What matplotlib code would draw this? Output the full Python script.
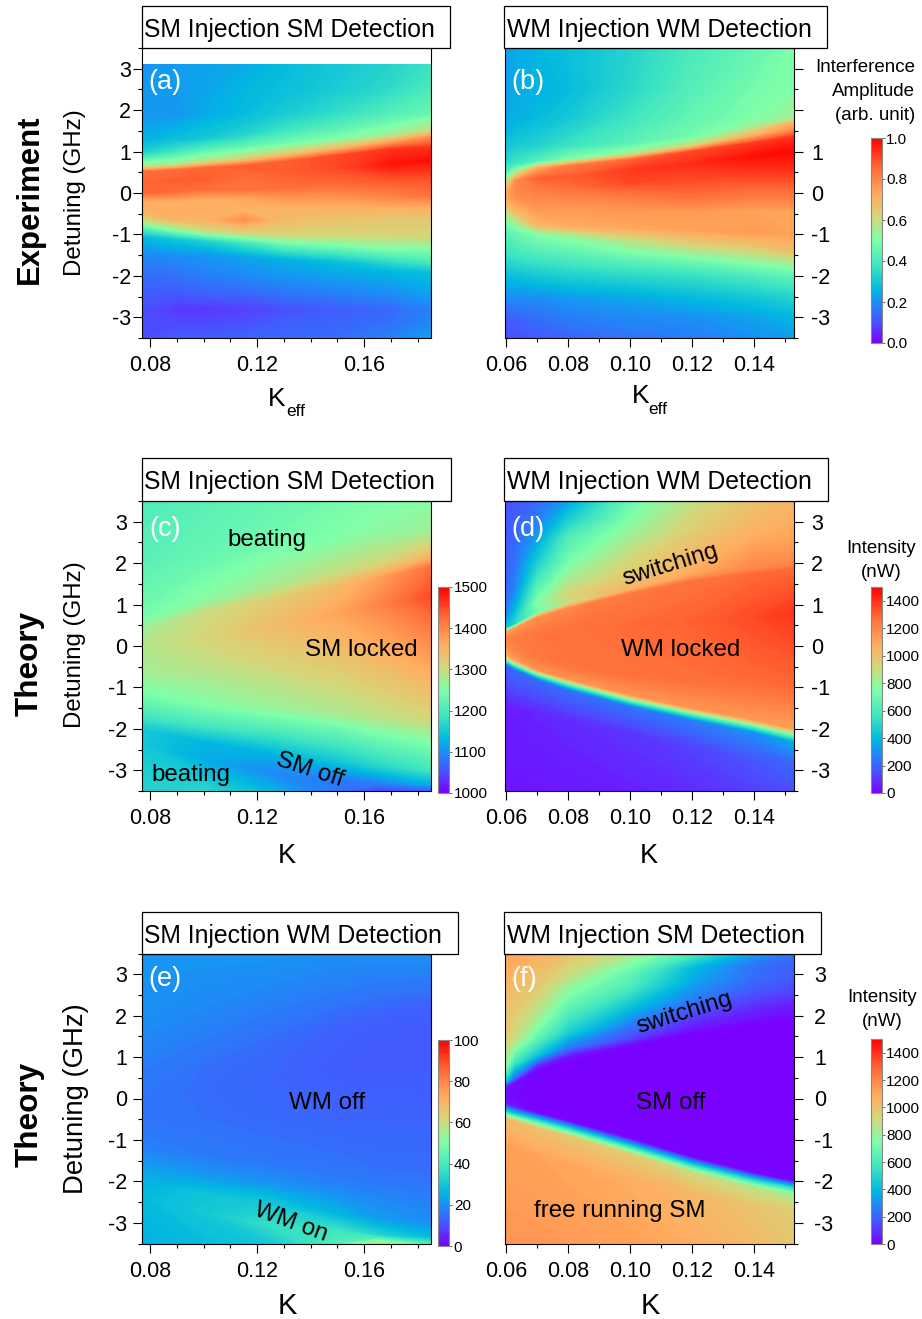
import numpy as np
import matplotlib
matplotlib.use("Agg")
import matplotlib.pyplot as plt
from matplotlib.cm import ScalarMappable
from matplotlib.colors import LinearSegmentedColormap, Normalize
from matplotlib.patches import Rectangle
from matplotlib.ticker import MultipleLocator, FormatStrFormatter

plt.rcParams['font.family'] = ['Liberation Sans', 'DejaVu Sans']

W, H = 922, 1319

# rows of each map follow the features in the picture: y per column, value per column
# panel (a), experiment, SM/SM
a_k = [0.0768, 0.09, 0.10, 0.115, 0.13, 0.15, 0.17, 0.185]
a_y = [
    [3.1] * 8,
    [2.5] * 8,
    [1.9] * 8,
    [1.3, 1.3, 1.3, 1.4, 1.5, 1.6, 1.7, 1.8],
    [0.95, 1.0, 1.05, 1.1, 1.2, 1.3, 1.4, 1.5],
    [0.65, 0.7, 0.75, 0.85, 0.95, 1.1, 1.25, 1.35],
    [0.5, 0.55, 0.6, 0.65, 0.75, 0.9, 1.05, 1.1],
    [0.25, 0.3, 0.35, 0.4, 0.5, 0.6, 0.7, 0.8],
    [0.0, 0.05, 0.1, 0.1, 0.15, 0.2, 0.25, 0.3],
    [-0.2, -0.2, -0.15, -0.1, -0.1, -0.1, -0.1, -0.05],
    [-0.45, -0.45, -0.45, -0.4, -0.4, -0.4, -0.4, -0.4],
    [-0.65] * 8,
    [-0.85, -0.9, -0.9, -0.95, -1.0, -1.0, -1.0, -1.05],
    [-1.05, -1.1, -1.15, -1.2, -1.25, -1.3, -1.35, -1.35],
    [-1.5, -1.5, -1.5, -1.55, -1.6, -1.65, -1.7, -1.7],
    [-1.9] * 8,
    [-2.4] * 8,
    [-2.8] * 8,
    [-3.1] * 8,
    [-3.5] * 8,
]
a_v = [
    [.20, .22, .23, .24, .27, .30, .33, .37],
    [.22, .22, .23, .26, .28, .31, .35, .40],
    [.21, .21, .24, .27, .31, .36, .42, .46],
    [.25, .28, .30, .33, .38, .42, .47, .50],
    [.33, .38, .42, .45, .47, .50, .55, .60],
    [.55, .55, .58, .60, .63, .66, .72, .78],
    [.85, .85, .86, .87, .87, .90, .93, .93],
    [.86, .87, .87, .85, .87, .90, .97, .98],
    [.86, .85, .85, .85, .85, .85, .87, .88],
    [.72, .72, .72, .74, .77, .77, .80, .84],
    [.70, .72, .71, .70, .70, .70, .70, .70],
    [.60, .70, .70, .78, .68, .66, .65, .65],
    [.42, .50, .60, .62, .62, .62, .62, .62],
    [.27, .30, .32, .38, .45, .47, .50, .50],
    [.19, .20, .21, .23, .25, .28, .33, .38],
    [.15, .16, .18, .20, .22, .24, .26, .28],
    [.12, .12, .13, .14, .16, .18, .20, .23],
    [.10, .07, .07, .08, .10, .12, .14, .18],
    [.10, .09, .09, .10, .12, .13, .15, .19],
    [.10, .12, .12, .13, .14, .15, .18, .22],
]

# panel (b), experiment, WM/WM
b_k = [0.0594, 0.063, 0.07, 0.08, 0.10, 0.12, 0.14, 0.153]
b_y = [
    [3.5] * 8,
    [2.5] * 8,
    [1.8] * 8,
    [1.2, 1.2, 1.1, 1.15, 1.2, 1.35, 1.6, 1.7],
    [0.75, 0.7, 0.75, 0.8, 0.95, 1.15, 1.4, 1.5],
    [0.45, 0.5, 0.6, 0.65, 0.8, 1.0, 1.2, 1.35],
    [0.25, 0.3, 0.35, 0.4, 0.55, 0.7, 0.9, 1.0],
    [0.05, 0.1, 0.1, 0.15, 0.25, 0.35, 0.5, 0.6],
    [-0.1] * 8,
    [-0.4, -0.4, -0.4, -0.4, -0.45, -0.45, -0.45, -0.45],
    [-0.65, -0.7, -0.75, -0.8, -0.85, -0.9, -0.95, -1.0],
    [-0.9, -0.95, -1.0, -1.05, -1.15, -1.25, -1.3, -1.4],
    [-1.5, -1.5, -1.5, -1.5, -1.6, -1.65, -1.7, -1.75],
    [-2.0] * 8,
    [-2.5] * 8,
    [-3.0] * 8,
    [-3.5] * 8,
]
b_v = [
    [.22, .24, .26, .28, .33, .40, .45, .50],
    [.22, .24, .25, .27, .34, .42, .48, .50],
    [.23, .25, .27, .30, .38, .45, .50, .55],
    [.28, .30, .33, .37, .43, .48, .55, .70],
    [.33, .38, .43, .50, .55, .60, .70, .80],
    [.42, .55, .72, .82, .86, .90, .92, .93],
    [.55, .78, .87, .87, .92, .94, .98, .99],
    [.70, .80, .82, .85, .90, .90, .92, .94],
    [.72, .78, .80, .80, .82, .84, .82, .82],
    [.60, .70, .76, .76, .76, .76, .74, .74],
    [.50, .56, .70, .72, .73, .74, .76, .74],
    [.42, .46, .50, .52, .58, .62, .65, .68],
    [.36, .38, .40, .42, .44, .46, .50, .52],
    [.27, .28, .30, .32, .34, .36, .40, .44],
    [.20, .20, .20, .22, .24, .27, .30, .33],
    [.12, .13, .15, .17, .19, .20, .23, .26],
    [.10, .10, .12, .13, .16, .17, .20, .22],
]

# panels (c) and (e), theory, SM injection
c_k = [0.0768, 0.10, 0.125, 0.15, 0.165, 0.185]
c_y = [
    [3.5] * 6,
    [2.0, 2.2, 2.4, 2.6, 2.7, 2.8],
    [0.7, 1.05, 1.4, 1.75, 1.95, 2.2],
    [0.4, 0.8, 1.1, 1.45, 1.65, 1.9],
    [0.0, 0.2, 0.5, 0.8, 1.0, 1.2],
    [-0.6, -0.5, -0.4, -0.3, -0.2, 0.0],
    [-1.2, -1.4, -1.5, -1.6, -1.7, -1.8],
    [-1.7, -1.9, -2.0, -2.1, -2.2, -2.3],
    [-2.0, -2.3, -2.6, -2.8, -2.9, -3.0],
    [-2.4, -2.75, -3.05, -3.2, -3.3, -3.35],
    [-3.5] * 6,
]
c_v = [
    [1205, 1215, 1225, 1240, 1250, 1255],
    [1215, 1225, 1240, 1250, 1260, 1270],
    [1240, 1260, 1280, 1300, 1310, 1340],
    [1270, 1300, 1320, 1340, 1370, 1420],
    [1285, 1310, 1340, 1370, 1400, 1450],
    [1275, 1290, 1310, 1330, 1350, 1390],
    [1240, 1250, 1265, 1280, 1290, 1305],
    [1190, 1195, 1205, 1220, 1235, 1250],
    [1150, 1130, 1125, 1145, 1165, 1190],
    [1150, 1120, 1095, 1085, 1090, 1120],
    [1165, 1170, 1130, 1075, 1040, 1055],
]
e_v = [
    [21, 21, 21, 20, 20, 20],
    [20, 19, 18, 17, 16.5, 16.5],
    [17, 16, 14.5, 13, 12.5, 12.5],
    [16.5, 15, 14, 12.5, 12, 12],
    [16, 14.5, 13.5, 12, 11.5, 11.5],
    [16, 15, 14, 13, 13, 12.5],
    [18, 17, 16, 15.5, 15, 15],
    [23, 22, 20, 18, 17.5, 17],
    [25, 29, 31, 26, 22, 20],
    [27, 30, 36, 38, 33, 27],
    [25, 27, 30, 42, 58, 40],
]

# panel (d), theory, WM/WM
d_k = [0.0594, 0.0625, 0.07, 0.08, 0.10, 0.12, 0.14, 0.153]
d_y = [
    [3.5] * 8,
    [3.0, 3.0, 3.0, 3.0, 3.1, 3.15, 3.2, 3.2],
    [2.6, 2.6, 2.6, 2.6, 2.7, 2.8, 2.9, 2.9],
    [2.0, 2.0, 2.0, 2.0, 2.2, 2.4, 2.6, 2.6],
    [1.4, 1.4, 1.5, 1.6, 1.7, 1.9, 2.2, 2.3],
    [0.75, 0.85, 1.05, 1.25, 1.45, 1.72, 1.97, 2.07],
    [0.42, 0.5, 0.8, 1.03, 1.35, 1.65, 1.85, 1.95],
    [0.33, 0.42, 0.68, 0.9, 1.25, 1.55, 1.75, 1.85],
    [0.15, 0.2, 0.3, 0.4, 0.5, 0.6, 0.7, 0.8],
    [-0.1, -0.15, -0.3, -0.5, -0.7, -0.8, -0.9, -1.0],
    [-0.2, -0.33, -0.58, -0.8, -1.18, -1.5, -1.78, -2.0],
    [-0.3, -0.43, -0.67, -0.9, -1.3, -1.62, -1.92, -2.15],
    [-0.42, -0.55, -0.8, -1.05, -1.45, -1.78, -2.08, -2.3],
    [-1.5, -1.5, -1.6, -1.8, -2.1, -2.4, -2.7, -2.8],
    [-3.5] * 8,
]
d_v = [
    [170, 170, 210, 340, 690, 880, 1000, 1050],
    [170, 185, 260, 480, 740, 920, 1025, 1065],
    [175, 200, 340, 620, 810, 950, 1050, 1090],
    [185, 220, 470, 730, 900, 1010, 1085, 1110],
    [200, 260, 610, 830, 970, 1060, 1150, 1150],
    [270, 380, 760, 930, 1030, 1100, 1180, 1190],
    [420, 500, 700, 880, 1080, 1160, 1200, 1210],
    [1050, 1130, 1170, 1200, 1240, 1260, 1280, 1280],
    [1180, 1230, 1250, 1260, 1280, 1300, 1350, 1390],
    [1120, 1200, 1240, 1250, 1260, 1270, 1275, 1280],
    [1050, 1100, 1150, 1150, 1150, 1150, 1140, 1120],
    [700, 700, 700, 700, 700, 700, 700, 700],
    [200, 220, 220, 230, 240, 260, 300, 380],
    [50, 60, 70, 80, 100, 130, 170, 210],
    [40, 40, 40, 45, 60, 80, 120, 150],
]

# panel (f), theory, WM injection SM detection
f_k = d_k
f_y = [
    [3.5] * 8,
    [3.0, 3.0, 3.0, 3.0, 3.1, 3.15, 3.2, 3.2],
    [2.6, 2.6, 2.6, 2.6, 2.7, 2.8, 2.9, 2.9],
    [2.0, 2.0, 2.0, 2.0, 2.2, 2.4, 2.6, 2.6],
    [1.4, 1.4, 1.5, 1.6, 1.75, 1.95, 2.15, 2.25],
    [0.75, 0.85, 1.05, 1.25, 1.45, 1.72, 1.92, 2.02],
    [0.42, 0.5, 0.8, 1.03, 1.3, 1.58, 1.78, 1.88],
    [0.28, 0.38, 0.68, 0.9, 1.2, 1.5, 1.7, 1.8],
    [0.0, 0.0, -0.1, -0.2, -0.3, -0.4, -0.5, -0.5],
    [-0.12, -0.2, -0.35, -0.55, -0.97, -1.42, -1.8, -2.0],
    [-0.3, -0.38, -0.52, -0.72, -1.15, -1.6, -1.97, -2.15],
    [-0.5, -0.55, -0.72, -0.92, -1.35, -1.78, -2.15, -2.32],
    [-1.2, -1.2, -1.4, -1.6, -2.0, -2.3, -2.6, -2.7],
    [-3.5] * 8,
]
f_v = [
    [1120, 1110, 1070, 1000, 850, 600, 330, 230],
    [1080, 1060, 1010, 900, 690, 400, 230, 190],
    [1040, 1010, 950, 770, 600, 350, 215, 175],
    [1000, 960, 840, 600, 420, 260, 170, 130],
    [950, 880, 680, 470, 240, 110, 70, 50],
    [780, 560, 430, 260, 130, 50, 30, 25],
    [480, 230, 80, 40, 20, 5, 5, 5],
    [60, 20, 10, 5, 5, 0, 0, 0],
    [20, 15, 5, 0, 0, 0, 0, 0],
    [60, 40, 10, 10, 10, 10, 10, 10],
    [480, 480, 480, 480, 480, 480, 480, 480],
    [1020, 1020, 1000, 980, 960, 900, 860, 820],
    [1120, 1120, 1110, 1100, 1080, 1040, 990, 960],
    [1150, 1150, 1150, 1140, 1120, 1080, 1030, 980],
]

cmap = LinearSegmentedColormap.from_list("origin_rainbow", [
    (0.00, "#7a00ff"), (0.10, "#4a50ff"), (0.20, "#1a90f5"), (0.26, "#00b8e0"),
    (0.38, "#40e6c0"), (0.50, "#80ffa8"), (0.62, "#d8d478"), (0.72, "#ffae60"),
    (0.85, "#ff6e38"), (1.00, "#ff0000")])

fig = plt.figure(figsize=(W / 100, H / 100), dpi=100)


def fx(x):
    return x / W


def fy(y):
    return 1 - y / H


def label(x, y, s, **kw):
    kw.setdefault('ha', 'center')
    kw.setdefault('va', 'center')
    if kw.get('rotation') == 90:
        x += 2
    else:
        y += 2
    fig.text(fx(x), fy(y), s, **kw)


def panel(box, k, y, v, vmin, vmax, xlim, x_major, x_fmt, side, pad, hide=()):
    l, t, r, b = box
    ax = fig.add_axes([fx(l), fy(b), (r - l) / W, (b - t) / H])
    X = np.tile(k, (len(y), 1))
    ax.contourf(X, np.array(y), np.array(v), levels=np.linspace(vmin, vmax, 201),
                cmap=cmap, vmin=vmin, vmax=vmax)
    ax.set_xlim(xlim)
    ax.set_ylim(-3.5, 3.5)
    ax.xaxis.set_major_locator(MultipleLocator(x_major))
    ax.xaxis.set_minor_locator(MultipleLocator(0.01))
    ax.xaxis.set_major_formatter(FormatStrFormatter(x_fmt))
    ax.yaxis.set_major_locator(MultipleLocator(1))
    ax.yaxis.set_minor_locator(MultipleLocator(0.5))
    ax.yaxis.set_major_formatter(lambda val, pos: '' if int(round(val)) in hide else f'{int(round(val))}')
    ax.tick_params(which='major', length=6.5, width=0.8, labelsize=15.5, pad=6)
    ax.tick_params(which='minor', length=3, width=0.8)
    ax.tick_params(axis='y', which='both', left=side == 'left', labelleft=side == 'left',
                   right=side == 'right', labelright=side == 'right')
    ax.tick_params(axis='y', which='major', pad=pad)
    for sp in ax.spines.values():
        sp.set_linewidth(0.8)
    return ax


def colorbar(box, vmin, vmax, step, fmt):
    l, t, r, b = box
    cax = fig.add_axes([fx(l), fy(b), (r - l) / W, (b - t) / H])
    cb = fig.colorbar(ScalarMappable(Normalize(vmin, vmax), cmap), cax=cax)
    cb.set_ticks(np.arange(vmin, vmax + step / 2, step))
    cb.ax.yaxis.set_major_formatter(FormatStrFormatter(fmt))
    cb.ax.tick_params(length=2, width=0.6, labelsize=11, pad=1.5, color='#555555')
    cb.outline.set_edgecolor('#888888')
    cb.outline.set_linewidth(0.8)


def title_box(l, t, r, b, s):
    fig.add_artist(Rectangle((fx(l), fy(b)), (r - l) / W, (b - t) / H, transform=fig.transFigure,
                             facecolor='white', edgecolor='black', linewidth=0.9))
    label(l + 3, (t + b) / 2 + 1, s, ha='left', fontsize=17.8)


x_left = (0.0768, 0.185)
x_right = (0.0594, 0.153)

panel((141.5, 48, 431, 338), a_k, a_y, a_v, 0, 1, x_left, 0.04, '%.2f', 'left', 1)
panel((504.5, 48, 794, 338), b_k, b_y, b_v, 0, 1, x_right, 0.02, '%.2f', 'right', 6, hide=(2, 3))
panel((141.5, 501, 431, 791), c_k, c_y, c_v, 1000, 1500, x_left, 0.04, '%.2f', 'left', 4)
panel((504.5, 501, 794, 791), d_k, d_y, d_v, 0, 1500, x_right, 0.02, '%.2f', 'right', 6)
panel((141.5, 953.5, 431, 1243.5), c_k, c_y, e_v, 0, 100, x_left, 0.04, '%.2f', 'left', 4)
panel((504.5, 953.5, 794, 1243.5), f_k, f_y, f_v, 0, 1500, x_right, 0.02, '%.2f', 'right', 8)

colorbar((871, 138, 881.5, 343), 0, 1, 0.2, '%.1f')
colorbar((438, 587, 449, 793), 1000, 1500, 100, '%d')
colorbar((871, 587, 881.5, 793), 0, 1500, 200, '%d')
colorbar((438, 1040, 449, 1246), 0, 100, 20, '%d')
colorbar((871, 1039, 881.5, 1244), 0, 1500, 200, '%d')

title_box(141.5, 6, 450, 48, 'SM Injection SM Detection')
title_box(503.5, 6, 827, 48, 'WM Injection WM Detection')
title_box(141.5, 458, 451, 501, 'SM Injection SM Detection')
title_box(504, 458, 828, 501, 'WM Injection WM Detection')
title_box(141.5, 912, 458, 953.5, 'SM Injection WM Detection')
title_box(504, 912, 821, 953.5, 'WM Injection SM Detection')

# row and axis labels
label(28, 199, 'Experiment', rotation=90, fontsize=22.4, fontweight='bold')
label(28, 663, 'Theory', rotation=90, fontsize=22.7, fontweight='bold')
label(28, 1114, 'Theory', rotation=90, fontsize=22.7, fontweight='bold')
label(73, 193, 'Detuning (GHz)', rotation=90, fontsize=17.3)
label(73, 645, 'Detuning (GHz)', rotation=90, fontsize=17.3)
label(74, 1099, 'Detuning (GHz)', rotation=90, fontsize=19.8)

label(277, 397, 'K', fontsize=19)
label(296, 410, 'eff', fontsize=12.5)
label(641, 394, 'K', fontsize=19)
label(658, 407, 'eff', fontsize=12.5)
label(287, 854, 'K', fontsize=19.5)
label(649, 854, 'K', fontsize=19.5)
label(287, 1304, 'K', fontsize=21)
label(650, 1304, 'K', fontsize=21)

# colorbar captions
label(915, 65, 'Interference', ha='right', fontsize=13.5)
label(915, 89, 'Amplitude', ha='right', fontsize=13.5)
label(915, 113, '(arb. unit)', ha='right', fontsize=13.5)
label(881, 547, 'Intensity', fontsize=13.5)
label(881, 571, '(nW)', fontsize=13.5)
label(882, 996, 'Intensity', fontsize=13.5)
label(882, 1019, '(nW)', fontsize=13.5)

# panel letters
label(165, 80, '(a)', color='white', fontsize=19.5)
label(528, 80, '(b)', color='white', fontsize=19.5)
label(165, 527, '(c)', color='white', fontsize=19.5)
label(528, 527, '(d)', color='white', fontsize=19.5)
label(165, 977, '(e)', color='white', fontsize=19.5)
label(524, 977, '(f)', color='white', fontsize=19.5)

# region notes
label(267, 538, 'beating', fontsize=17.4)
label(191, 773, 'beating', fontsize=17.4)
label(361, 648, 'SM locked', fontsize=17.4)
label(310, 768, 'SM off', rotation=-18, fontsize=17.4)
label(670, 563, 'switching', rotation=17, fontsize=17.4)
label(681, 648, 'WM locked', fontsize=17.4)
label(327, 1101, 'WM off', fontsize=17.4)
label(291, 1220, 'WM on', rotation=-20, fontsize=17.4)
label(684, 1011, 'switching', rotation=17, fontsize=17.4)
label(671, 1101, 'SM off', fontsize=17.4)
label(620, 1209, 'free running SM', fontsize=17.4)

fig.savefig('out.png', dpi=100)
